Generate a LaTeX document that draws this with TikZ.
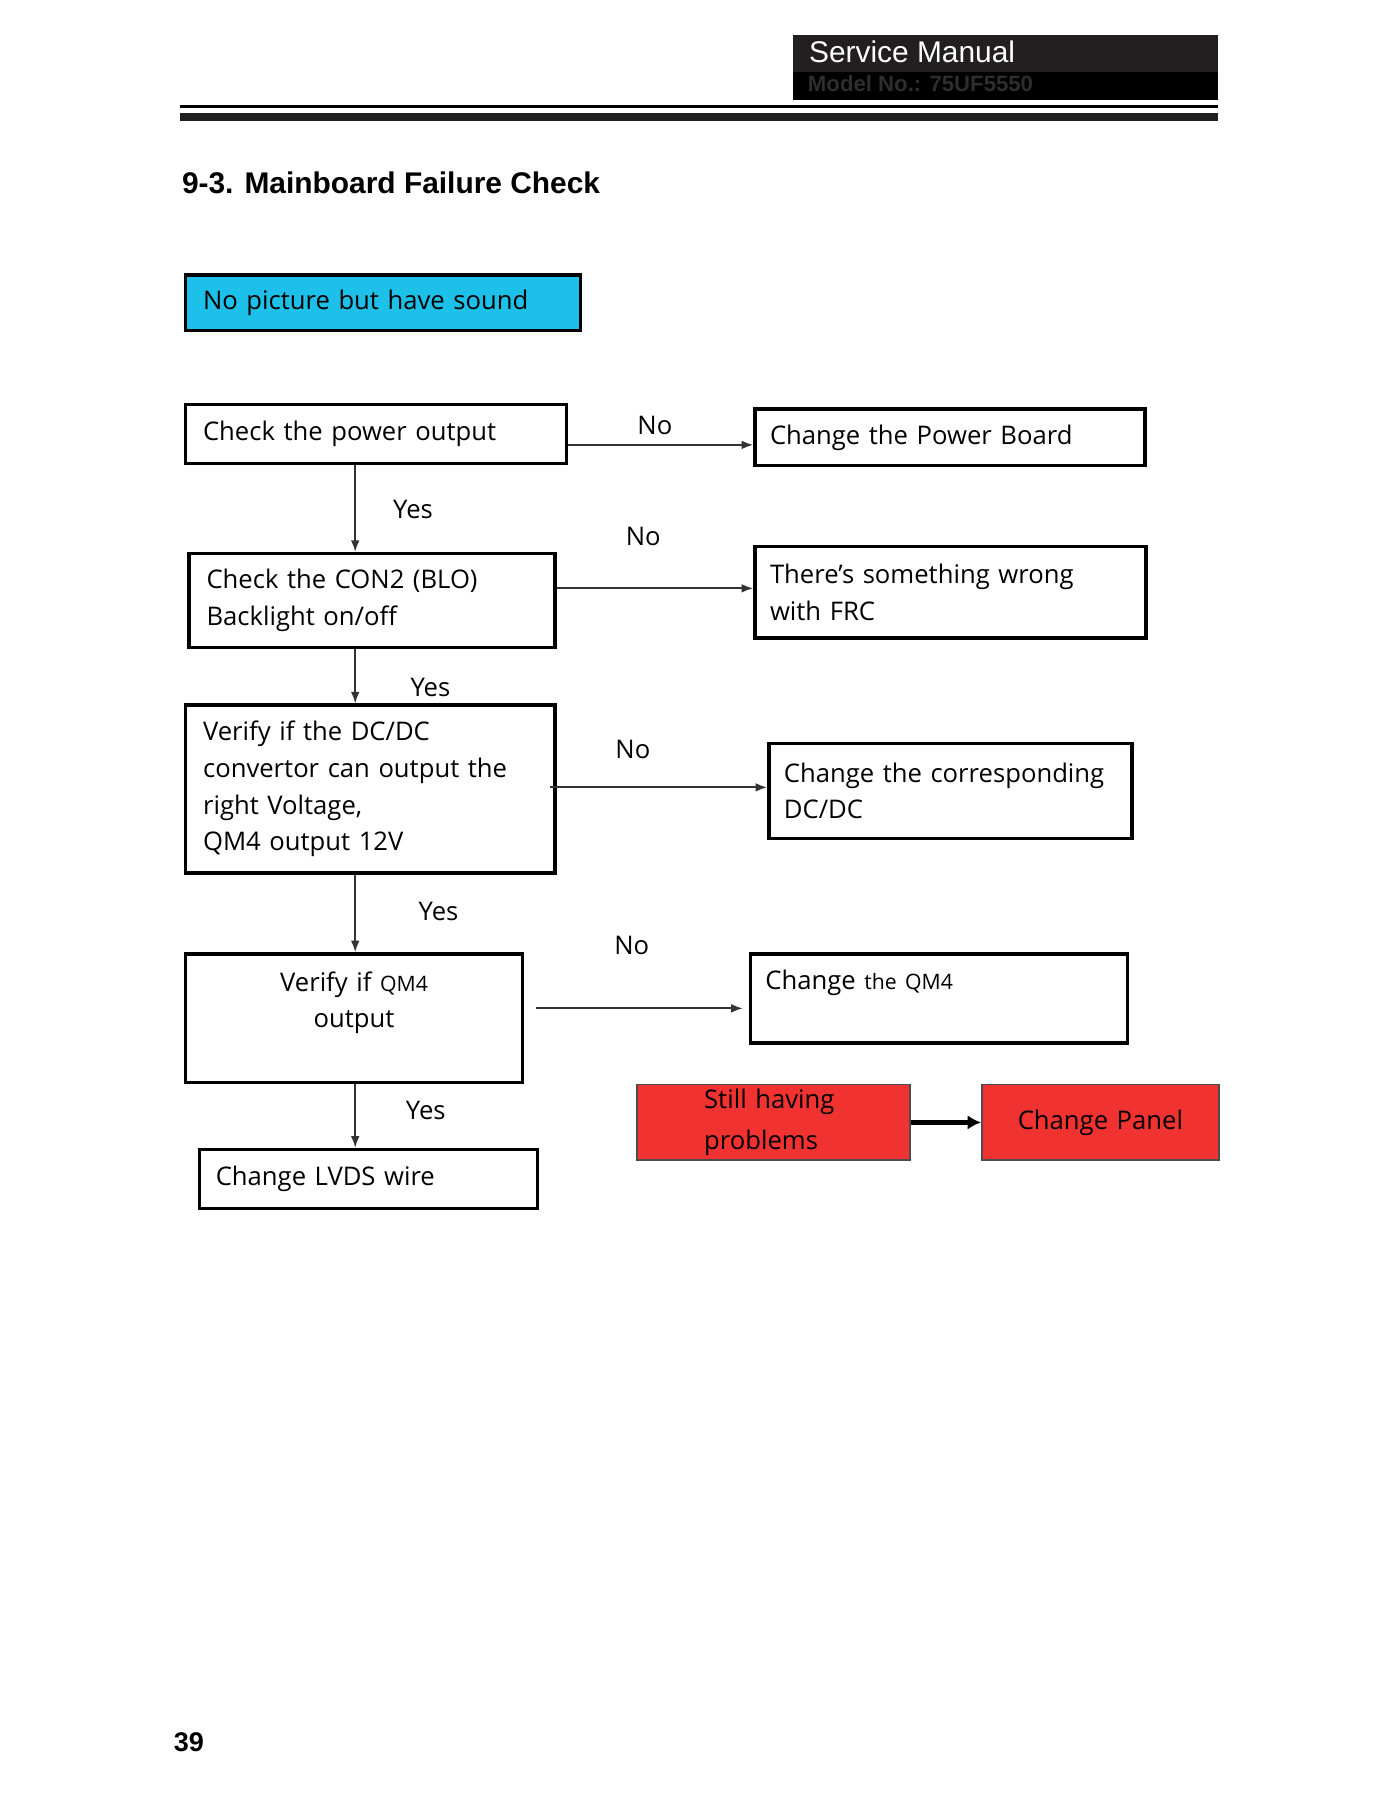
\documentclass[tikz,border=0pt]{standalone}
\usepackage{fontspec}
\setmainfont{Open Sans}
\newfontfamily\headfont{Liberation Sans}
\usetikzlibrary{calc,arrows.meta}
\definecolor{skyfill}{RGB}{29,192,232}
\definecolor{alarmred}{RGB}{240,50,48}
\definecolor{headgray}{RGB}{35,31,32}
\tikzset{
	% boxes of the flow chart: plain, cyan start and red end boxes
	flow box/.style={draw,line width=1.8pt,anchor=north west,align=left,inner ysep=0pt,
		font=\fontsize{13.3}{19}\selectfont},
	start box/.style={flow box,fill=skyfill},
	red box/.style={flow box,fill=alarmred,line width=0.7pt,draw=black!70},
	% arrows and their Yes/No labels
	flow arrow/.style={-{Latex[length=6pt,width=4.5pt]},line width=0.9pt,draw=black!80},
	bold arrow/.style={-{Latex[length=7pt,width=7.5pt]},line width=2.4pt},
	answer/.style={inner sep=0pt,font=\fontsize{13.3}{16}\selectfont}
}

\begin{document}
\begin{tikzpicture}[x=0.6pt,y=-0.6pt]
\useasboundingbox (0,0) rectangle (1210,1566.1);

% page head
\fill[headgray] (685,30) rectangle (1053,62);
\fill[black] (685,62) rectangle (1053,86);
\node[anchor=west,inner sep=0pt,text=white,font=\headfont\fontsize{15.5}{18}\selectfont] (manual) at (699,45) {Service Manual};
\node[anchor=west,inner sep=0pt,text=black!82,font=\headfont\bfseries\fontsize{11.5}{14}\selectfont] (model) at (698,72) {Model No.: 75UF5550};
\fill[black] (156,91) rectangle (1053,93);
\fill[black!88] (156,98) rectangle (1053,105);
\node[anchor=west,inner sep=0pt,font=\headfont\bfseries\fontsize{15.5}{18}\selectfont] (title) at (157,158) {9-3. Mainboard Failure Check};

% boxes
\node[start box,minimum width=204.6pt,minimum height=28.8pt,text width=186.6pt,inner xsep=9pt] (nopic) at (159,236) {No picture but have sound};
\node[flow box,minimum width=197.4pt,minimum height=30.6pt,text width=179.4pt,inner xsep=9pt] (power) at (159,348) {Check the power output};
\node[flow box,minimum width=202.2pt,minimum height=29.4pt,text width=186.6pt,inner xsep=7.8pt] (board) at (651,352) {Change the Power Board};
\node[flow box,minimum width=189.6pt,minimum height=48.6pt,text width=171.6pt,inner xsep=9pt] (con2) at (162,477) {Check the CON2 (BLO)\\Backlight on/off};
\node[flow box,minimum width=202.8pt,minimum height=47.4pt,text width=187.2pt,inner xsep=7.8pt] (frc) at (651,471) {There’s something wrong\\with FRC};
\node[flow box,minimum width=191.4pt,minimum height=87pt,text width=173.4pt,inner xsep=9pt] (dcdc) at (159,608) {Verify if the DC/DC\\convertor can output the\\right Voltage,\\QM4 output 12V};
\node[flow box,minimum width=188.4pt,minimum height=49.2pt,text width=172.8pt,inner xsep=7.8pt] (corr) at (663,641) {Change the corresponding\\DC/DC};
\node[flow box,align=center,minimum width=174.6pt,minimum height=66.6pt,text width=156.6pt,inner xsep=9pt] (qmchk) at (159,823) {Verify if {\fontsize{11}{19}\selectfont QM4}\\output\\\mbox{}};
\node[flow box,minimum width=195.6pt,minimum height=46.2pt,text width=180pt,inner xsep=7.8pt] (chqm) at (647,823) {Change {\fontsize{11}{19}\selectfont the QM4}\\\mbox{}};
\node[flow box,minimum width=175.2pt,minimum height=30.6pt,text width=158.4pt,inner xsep=8.4pt] (lvds) at (171,992) {Change LVDS wire};
\node[red box,minimum width=141.6pt,minimum height=39pt,text width=72pt,inner xsep=34.8pt,font=\fontsize{13.3}{21}\selectfont] (still) at (550,937) {Still having\\problems};
\node[red box,align=center,minimum width=123pt,minimum height=39pt,text width=111pt,inner xsep=6pt] (panel) at (848,937) {Change Panel};

% Yes path down the left
\coordinate (spine) at (307,0);
\draw[flow arrow] (power.south -| spine) -- (con2.north -| spine);
\draw[flow arrow] (con2.south -| spine) -- (dcdc.north -| spine);
\draw[flow arrow] (dcdc.south -| spine) -- (qmchk.north -| spine);
\draw[flow arrow] (qmchk.south -| spine) -- (lvds.north -| spine);
\node[answer] (yes1) at (357,440) {Yes};
\node[answer] (yes2) at (372,594) {Yes};
\node[answer] (yes3) at (379,788) {Yes};
\node[answer] (yes4) at (368,960) {Yes};

% No branches to the right
\draw[flow arrow] ([yshift=-5.7pt]power.east) -- ([yshift=-5.7pt]power.east -| board.west);
\draw[flow arrow] ([yshift=6.3pt]con2.east) -- ([yshift=6.3pt]con2.east -| frc.west);
\draw[flow arrow] ([xshift=-3.6pt,yshift=0.9pt]dcdc.east) -- ([yshift=0.9pt]dcdc.east -| corr.west);
\draw[flow arrow] ([xshift=6pt,yshift=5.1pt]qmchk.east) -- ([xshift=-3pt,yshift=5.1pt]qmchk.east -| chqm.west);
\node[answer] (no1) at (566,368) {No};
\node[answer] (no2) at (556,464) {No};
\node[answer] (no3) at (547,648) {No};
\node[answer] (no4) at (546,817) {No};

\draw[bold arrow] (still.east) -- (panel.west);

% page number
\node[anchor=west,inner sep=0pt,font=\headfont\bfseries\fontsize{14}{16}\selectfont] (page) at (150,1506) {39};

\end{tikzpicture}
\end{document}
